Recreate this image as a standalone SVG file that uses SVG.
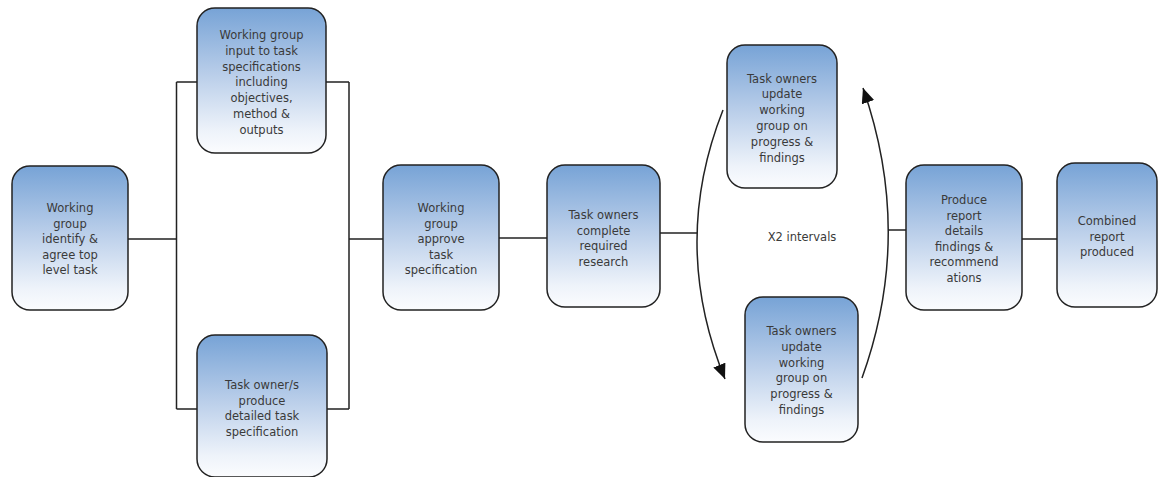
<svg xmlns="http://www.w3.org/2000/svg" width="1158" height="477" viewBox="0 0 1158 477">
<defs>
<linearGradient id="g" x1="0" y1="0" x2="0" y2="1">
<stop offset="0" stop-color="#77a3d6"/>
<stop offset="0.45" stop-color="#b8cde9"/>
<stop offset="0.85" stop-color="#eef3fa"/>
<stop offset="1" stop-color="#fbfcfe"/>
</linearGradient>
<marker id="arr" markerUnits="userSpaceOnUse" markerWidth="16" markerHeight="14" refX="15" refY="6.5" orient="auto">
<path d="M0,0 L15,6.5 L0,13 z" fill="#111"/>
</marker>
<style>
.box{fill:url(#g);stroke:#222;stroke-width:1.5}
.t{font-family:"DejaVu Sans",sans-serif;font-size:11.5px;fill:#3a3a3a;text-anchor:middle}
.c{fill:none;stroke:#222;stroke-width:1.5}
</style>
</defs>
<g id="connectors">
<path class="c" d="M128,239 H176.5 M176.5,82 V409 M176.5,82 H197 M176.5,409 H197"/>
<path class="c" d="M326,82 H349 M349,82 V409 M327,409 H349 M349,239 H383"/>
<path class="c" d="M499,238 H547"/>
<path class="c" d="M660,233 H697"/>
<path class="c" d="M723,110 Q670,244 725,379" marker-end="url(#arr)"/>
<path class="c" d="M862,378 Q914,234 863,88" marker-end="url(#arr)"/>
<path class="c" d="M888,230 H906"/>
<path class="c" d="M1022,239 H1057"/>
</g>
<g id="n1"><rect class="box" x="12" y="166" width="116" height="144" rx="18"/>
<text class="t"><tspan x="70" y="212">Working</tspan><tspan x="70" y="227.5">group</tspan><tspan x="70" y="243">identify &amp;</tspan><tspan x="70" y="258.5">agree top</tspan><tspan x="70" y="274">level task</tspan></text></g>
<g id="n2"><rect class="box" x="197" y="8" width="129" height="145" rx="18"/>
<text class="t"><tspan x="261.5" y="39">Working group</tspan><tspan x="261.5" y="54.8">input to task</tspan><tspan x="261.5" y="70.6">specifications</tspan><tspan x="261.5" y="86.4">including</tspan><tspan x="261.5" y="102.2">objectives,</tspan><tspan x="261.5" y="118">method &amp;</tspan><tspan x="261.5" y="133.8">outputs</tspan></text></g>
<g id="n3"><rect class="box" x="197" y="335" width="130" height="142" rx="18"/>
<text class="t"><tspan x="262" y="389">Task owner/s</tspan><tspan x="262" y="404.6">produce</tspan><tspan x="262" y="420.2">detailed task</tspan><tspan x="262" y="435.8">specification</tspan></text></g>
<g id="n4"><rect class="box" x="383" y="165" width="116" height="145" rx="18"/>
<text class="t"><tspan x="441" y="212">Working</tspan><tspan x="441" y="227.6">group</tspan><tspan x="441" y="243.2">approve</tspan><tspan x="441" y="258.8">task</tspan><tspan x="441" y="274.4">specification</tspan></text></g>
<g id="n5"><rect class="box" x="547" y="165" width="113" height="142" rx="18"/>
<text class="t"><tspan x="603.5" y="219">Task owners</tspan><tspan x="603.5" y="234.6">complete</tspan><tspan x="603.5" y="250.2">required</tspan><tspan x="603.5" y="265.8">research</tspan></text></g>
<g id="n6"><rect class="box" x="727" y="45" width="110" height="143" rx="18"/>
<text class="t"><tspan x="782" y="82.5">Task owners</tspan><tspan x="782" y="98.3">update</tspan><tspan x="782" y="114.1">working</tspan><tspan x="782" y="129.9">group on</tspan><tspan x="782" y="145.7">progress &amp;</tspan><tspan x="782" y="161.5">findings</tspan></text></g>
<g id="n7"><rect class="box" x="745" y="297" width="113" height="145" rx="18"/>
<text class="t"><tspan x="801.5" y="334.7">Task owners</tspan><tspan x="801.5" y="350.6">update</tspan><tspan x="801.5" y="366.5">working</tspan><tspan x="801.5" y="382.4">group on</tspan><tspan x="801.5" y="398.3">progress &amp;</tspan><tspan x="801.5" y="414.2">findings</tspan></text></g>
<g id="n8"><rect class="box" x="906" y="165" width="116" height="145" rx="18"/>
<text class="t"><tspan x="964" y="204">Produce</tspan><tspan x="964" y="219.5">report</tspan><tspan x="964" y="235">details</tspan><tspan x="964" y="250.5">findings &amp;</tspan><tspan x="964" y="266">recommend</tspan><tspan x="964" y="281.5">ations</tspan></text></g>
<g id="n9"><rect class="box" x="1057" y="163" width="100" height="144" rx="18"/>
<text class="t"><tspan x="1107" y="225">Combined</tspan><tspan x="1107" y="240.5">report</tspan><tspan x="1107" y="256">produced</tspan></text></g>
<g id="label"><text class="t" x="802" y="241">X2 intervals</text></g>
</svg>
